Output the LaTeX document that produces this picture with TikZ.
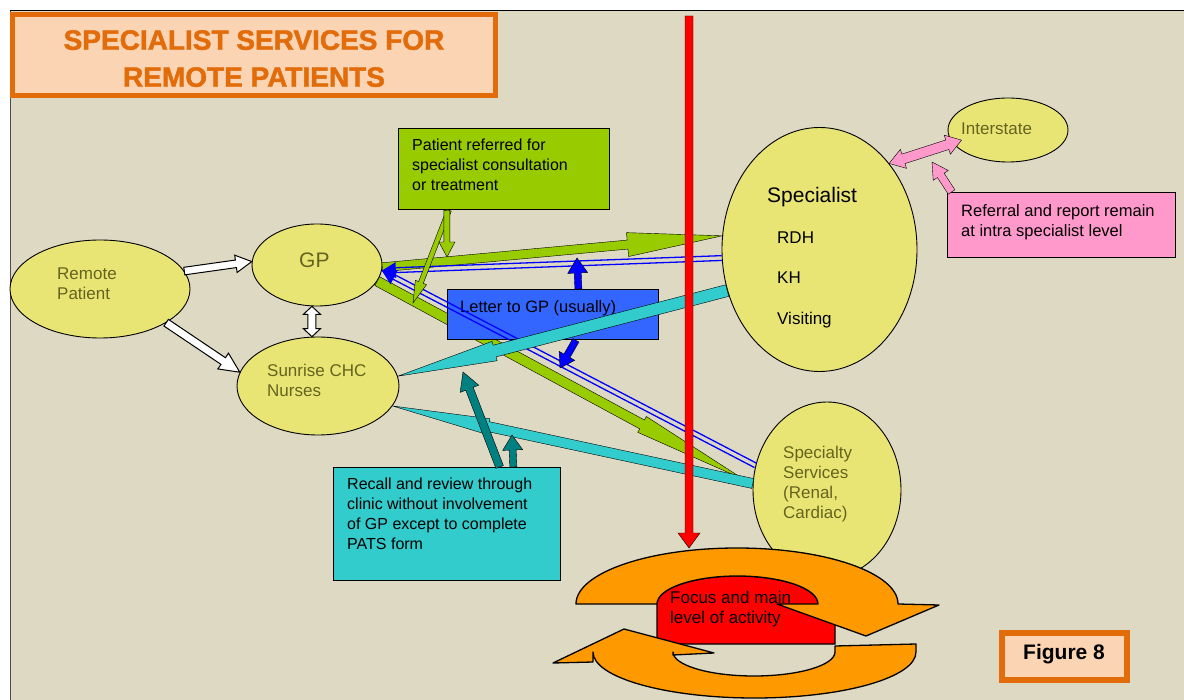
\documentclass[tikz,border=0pt]{standalone}
\usepackage{fontspec}
\setmainfont{Liberation Sans}
\newfontfamily\heavyfont{Liberation Sans}[FakeBold=1.6]
\usetikzlibrary{calc,shapes.geometric}

\definecolor{bgtan}{HTML}{DDD9C3}
\definecolor{ovalfill}{HTML}{E9E575}
\definecolor{olivetext}{RGB}{100,100,30}
\definecolor{titleorange}{HTML}{E36C0A}
\definecolor{peach}{HTML}{FBD4B4}
\definecolor{leafgreen}{HTML}{99CC00}
\definecolor{letterblue}{HTML}{3366FF}
\definecolor{linkblue}{HTML}{0000FF}
\definecolor{aqua}{HTML}{33CCCC}
\definecolor{tealdark}{HTML}{008080}
\definecolor{rosepink}{HTML}{FF99CC}
\definecolor{cycleorange}{HTML}{FF9900}

\tikzset{
  oval/.style={ellipse, draw=black, line width=0.9pt, fill=ovalfill, inner sep=0pt},
  notebox/.style={rectangle, draw=black, line width=1.3pt, inner sep=0pt, anchor=north west},
  txt/.style={anchor=north west, inner sep=0pt, align=left, font=\fontsize{16}{20}\selectfont},
  ovaltxt/.style={anchor=north west, inner sep=0pt, align=left, text=olivetext, font=\fontsize{17}{20}\selectfont},
  framebox/.style={rectangle, draw=titleorange, fill=peach, line width=5pt, inner sep=0pt},
  hollow/.style={fill=white, draw=black, line width=1pt, line join=miter},
  leaf/.style={fill=leafgreen},
  bluefill/.style={fill=linkblue},
  aquafill/.style={fill=aqua},
  tealfill/.style={fill=tealdark},
  pinkfill/.style={fill=rosepink},
  redfill/.style={fill=red},
  linkwire/.style={draw=linkblue, line width=1.3pt},
  cycle arrow/.style={fill=cycleorange, draw=black, line width=1.3pt, line join=round},
}

% block arrow: style, start, tip, shaft half width, head half width, head length
\newcommand{\blockarrow}[6]{%
  \path (#2) coordinate (ba-s) (#3) coordinate (ba-t);
  \path ($(ba-t)!#6!(ba-s)$) coordinate (ba-b);
  \draw[#1] ($(ba-s)!#4!90:(ba-t)$) -- ($(ba-b)!#4!-90:(ba-s)$)
     -- ($(ba-b)!#5!-90:(ba-s)$) -- (ba-t) -- ($(ba-b)!#5!90:(ba-s)$)
     -- ($(ba-b)!#4!90:(ba-s)$) -- ($(ba-s)!#4!-90:(ba-t)$) -- cycle;}

% block arrow with a head at both ends
\newcommand{\twinarrow}[6]{%
  \path (#2) coordinate (ta-a) (#3) coordinate (ta-b);
  \path ($(ta-a)!#6!(ta-b)$) coordinate (ta-p) ($(ta-b)!#6!(ta-a)$) coordinate (ta-q);
  \draw[#1] (ta-a) -- ($(ta-p)!#5!90:(ta-b)$) -- ($(ta-p)!#4!90:(ta-b)$)
     -- ($(ta-q)!#4!-90:(ta-a)$) -- ($(ta-q)!#5!-90:(ta-a)$) -- (ta-b)
     -- ($(ta-q)!#5!90:(ta-a)$) -- ($(ta-q)!#4!90:(ta-a)$)
     -- ($(ta-p)!#4!-90:(ta-b)$) -- ($(ta-p)!#5!-90:(ta-b)$) -- cycle;}

% twin blue line ending in a solid head
\newcommand{\bluelink}[2]{%
  \path (#1) coordinate (bl-s) (#2) coordinate (bl-t);
  \path ($(bl-t)!14pt!(bl-s)$) coordinate (bl-b);
  \draw[linkwire] ($(bl-s)!2.4pt!90:(bl-t)$) -- ($(bl-b)!2.4pt!-90:(bl-s)$);
  \draw[linkwire] ($(bl-s)!2.4pt!-90:(bl-t)$) -- ($(bl-b)!2.4pt!90:(bl-s)$);
  \fill[linkblue] (bl-t) -- ($(bl-b)!8pt!90:(bl-s)$) -- ($(bl-b)!8pt!-90:(bl-s)$) -- cycle;}

\begin{document}
\begin{tikzpicture}[x=1pt,y=-1pt]
\useasboundingbox (0,0) rectangle (1184,700);
\fill[white] (0,0) rectangle (1184,700);
\fill[bgtan] (10,11) rectangle (1184,700);
\draw[black, line width=1pt] (10,11) -- (1184,11);
\draw[gray!60!black, line width=1pt] (10,11) -- (10,700);

% title
\node[framebox, minimum width=483pt, minimum height=81pt] (titlebox) at (254,55) {};
\node[anchor=north, inner sep=0pt, align=center, text=titleorange,
      font=\heavyfont\bfseries\fontsize{28}{37}\selectfont] (title) at (254,30)
      {SPECIALIST SERVICES FOR\\REMOTE PATIENTS};

% services
\node[oval, minimum width=180pt, minimum height=98pt] (rp) at (100,289) {};
\node[oval, minimum width=130pt, minimum height=82pt] (gp) at (317,265) {};
\node[oval, minimum width=162pt, minimum height=98pt] (sn) at (318,386) {};
\node[oval, minimum width=195pt, minimum height=244pt] (sp) at (819.5,249.5) {};
\node[oval, minimum width=120pt, minimum height=64pt] (it) at (1008,130) {};
\node[oval, minimum width=148pt, minimum height=176pt] (ss) at (827,490) {};

\node[ovaltxt] (rpt) at (57,268) {Remote\\Patient};
\node[ovaltxt, font=\fontsize{21}{24}\selectfont] (gpt) at (299,253) {GP};
\node[ovaltxt] (snt) at (267,364) {Sunrise CHC\\Nurses};
\node[txt, font=\fontsize{21}{24}\selectfont] (spt) at (767,187) {Specialist};
\node[txt, font=\fontsize{17}{20}\selectfont] (rdh) at (777,232) {RDH};
\node[txt, font=\fontsize{17}{20}\selectfont] (kh) at (777,272) {KH};
\node[txt, font=\fontsize{17}{20}\selectfont] (vis) at (777,312) {Visiting};
\node[ovaltxt] (itt) at (961,123) {Interstate};
\node[ovaltxt] (sst) at (783,446) {Specialty\\Services\\(Renal,\\Cardiac)};

% referral flows to the specialists
\blockarrow{leaf}{gp.-2}{sp.172}{4.5pt}{12pt}{95pt}
\blockarrow{leaf}{gp.-15}{[xshift=-9pt]ss.172}{5pt}{9pt}{116pt}

% letter back to the GP
\node[notebox, fill=letterblue, minimum width=211pt, minimum height=50pt] (letter) at (447,289) {};
\node[txt, font=\fontsize{16.5}{20}\selectfont] (lettert) at (460,300) {Letter to GP (usually)};
\bluelink{sp.185}{gp.-5}
\bluelink{ss.161}{gp.-5}
\coordinate (letterup) at (577,258);
\coordinate (letterdown) at (560,368);
\blockarrow{bluefill}{$(letter.north west)!0.619!(letter.north east)$}{letterup}{3.5pt}{10pt}{15pt}
\blockarrow{bluefill}{$(letter.south west)!0.607!(letter.south east)$}{letterdown}{3.5pt}{9pt}{14pt}

% recall and review
\blockarrow{aquafill}{sp.204}{sn.7}{6pt}{10pt}{100pt}
\blockarrow{aquafill}{ss.175}{sn.-15}{5pt}{8pt}{98pt}

% referral note
\coordinate (refdiag) at (413,303);
\coordinate (refdown) at (447,257);
\node[notebox, fill=leafgreen, minimum width=211pt, minimum height=81pt] (ref) at (398,128) {};
\blockarrow{leaf}{$(ref.south west)!0.24!(ref.south east)$}{refdiag}{2.5pt}{6pt}{22pt}
\blockarrow{leaf}{$(ref.south west)!0.23!(ref.south east)$}{refdown}{3pt}{8pt}{15pt}
\node[txt] (reft) at (412,139) {Patient referred for\\specialist consultation\\or treatment};

% recall note
\node[notebox, fill=aqua, minimum width=227pt, minimum height=113pt] (recall) at (333,467) {};
\node[txt] (recallt) at (347,478) {Recall and review through\\clinic without involvement\\of GP except to complete\\PATS form};
\coordinate (recallup) at (463,372);
\coordinate (recallvert) at (512,435);
\blockarrow{tealfill}{$(recall.north west)!0.73!(recall.north east)$}{recallup}{4pt}{10pt}{18pt}
\blockarrow{tealfill}{$(recall.north west)!0.79!(recall.north east)$}{recallvert}{3.5pt}{10pt}{15pt}

% white flows from the patient
\blockarrow{hollow}{rp.12}{gp.177}{3.8pt}{8.7pt}{16pt}
\blockarrow{hollow}{rp.-27}{sn.170}{4pt}{9.5pt}{20pt}
\twinarrow{hollow}{gp.263}{sn.97}{4pt}{8.5pt}{8pt}

% interstate
\twinarrow{pinkfill}{sp.51}{[xshift=11pt]it.190}{5pt}{10pt}{15pt}
\node[notebox, fill=rosepink, minimum width=228pt, minimum height=65pt] (pink) at (947,192) {};
\node[txt, font=\fontsize{16.5}{20}\selectfont] (pinkt) at (961,204) {Referral and report remain\\at intra specialist level};
\coordinate (pinkup) at (932,162);
\blockarrow{pinkfill}{$(pink.north west)!0.02!(pink.north east)$}{pinkup}{4pt}{9pt}{16pt}

% main line of activity
\coordinate (focustop) at (689,16);
\coordinate (focusbase) at (689,548);
\blockarrow{redfill}{focustop}{focusbase}{4pt}{11pt}{15pt}

\draw[fill=red, draw=black, line width=1.3pt]
  (657,644) -- (657,604) arc[start angle=180, end angle=0, x radius=80.5pt, y radius=28pt]
  -- (835,612) -- (835,644) -- cycle;
\draw[cycle arrow]
  (576,604) arc[start angle=180, end angle=0, x radius=161pt, y radius=56pt]
  -- (939,605) -- (866,636) -- (777,604) -- (818,604)
  arc[start angle=0, end angle=180, x radius=80.5pt, y radius=28pt] -- cycle;
\draw[cycle arrow]
  (835,646) -- (916,644) -- (916,652)
  arc[start angle=0, end angle=-180, x radius=161.5pt, y radius=46pt]
  -- (593,662) -- (553,663) -- (624,629) -- (714,653) -- (673,655) -- (673,652)
  arc[start angle=180, end angle=360, x radius=81pt, y radius=24pt] -- cycle;
\node[txt, font=\fontsize{17}{20}\selectfont] (focust) at (670,591) {Focus and main\\level of activity};

% figure label
\node[framebox, line width=6pt, minimum width=125pt, minimum height=47pt] (figbox) at (1064.5,656.5) {};
\node[anchor=north west, inner sep=0pt, font=\bfseries\fontsize{21}{24}\selectfont] (figt) at (1023,644) {Figure 8};
\end{tikzpicture}
\end{document}
